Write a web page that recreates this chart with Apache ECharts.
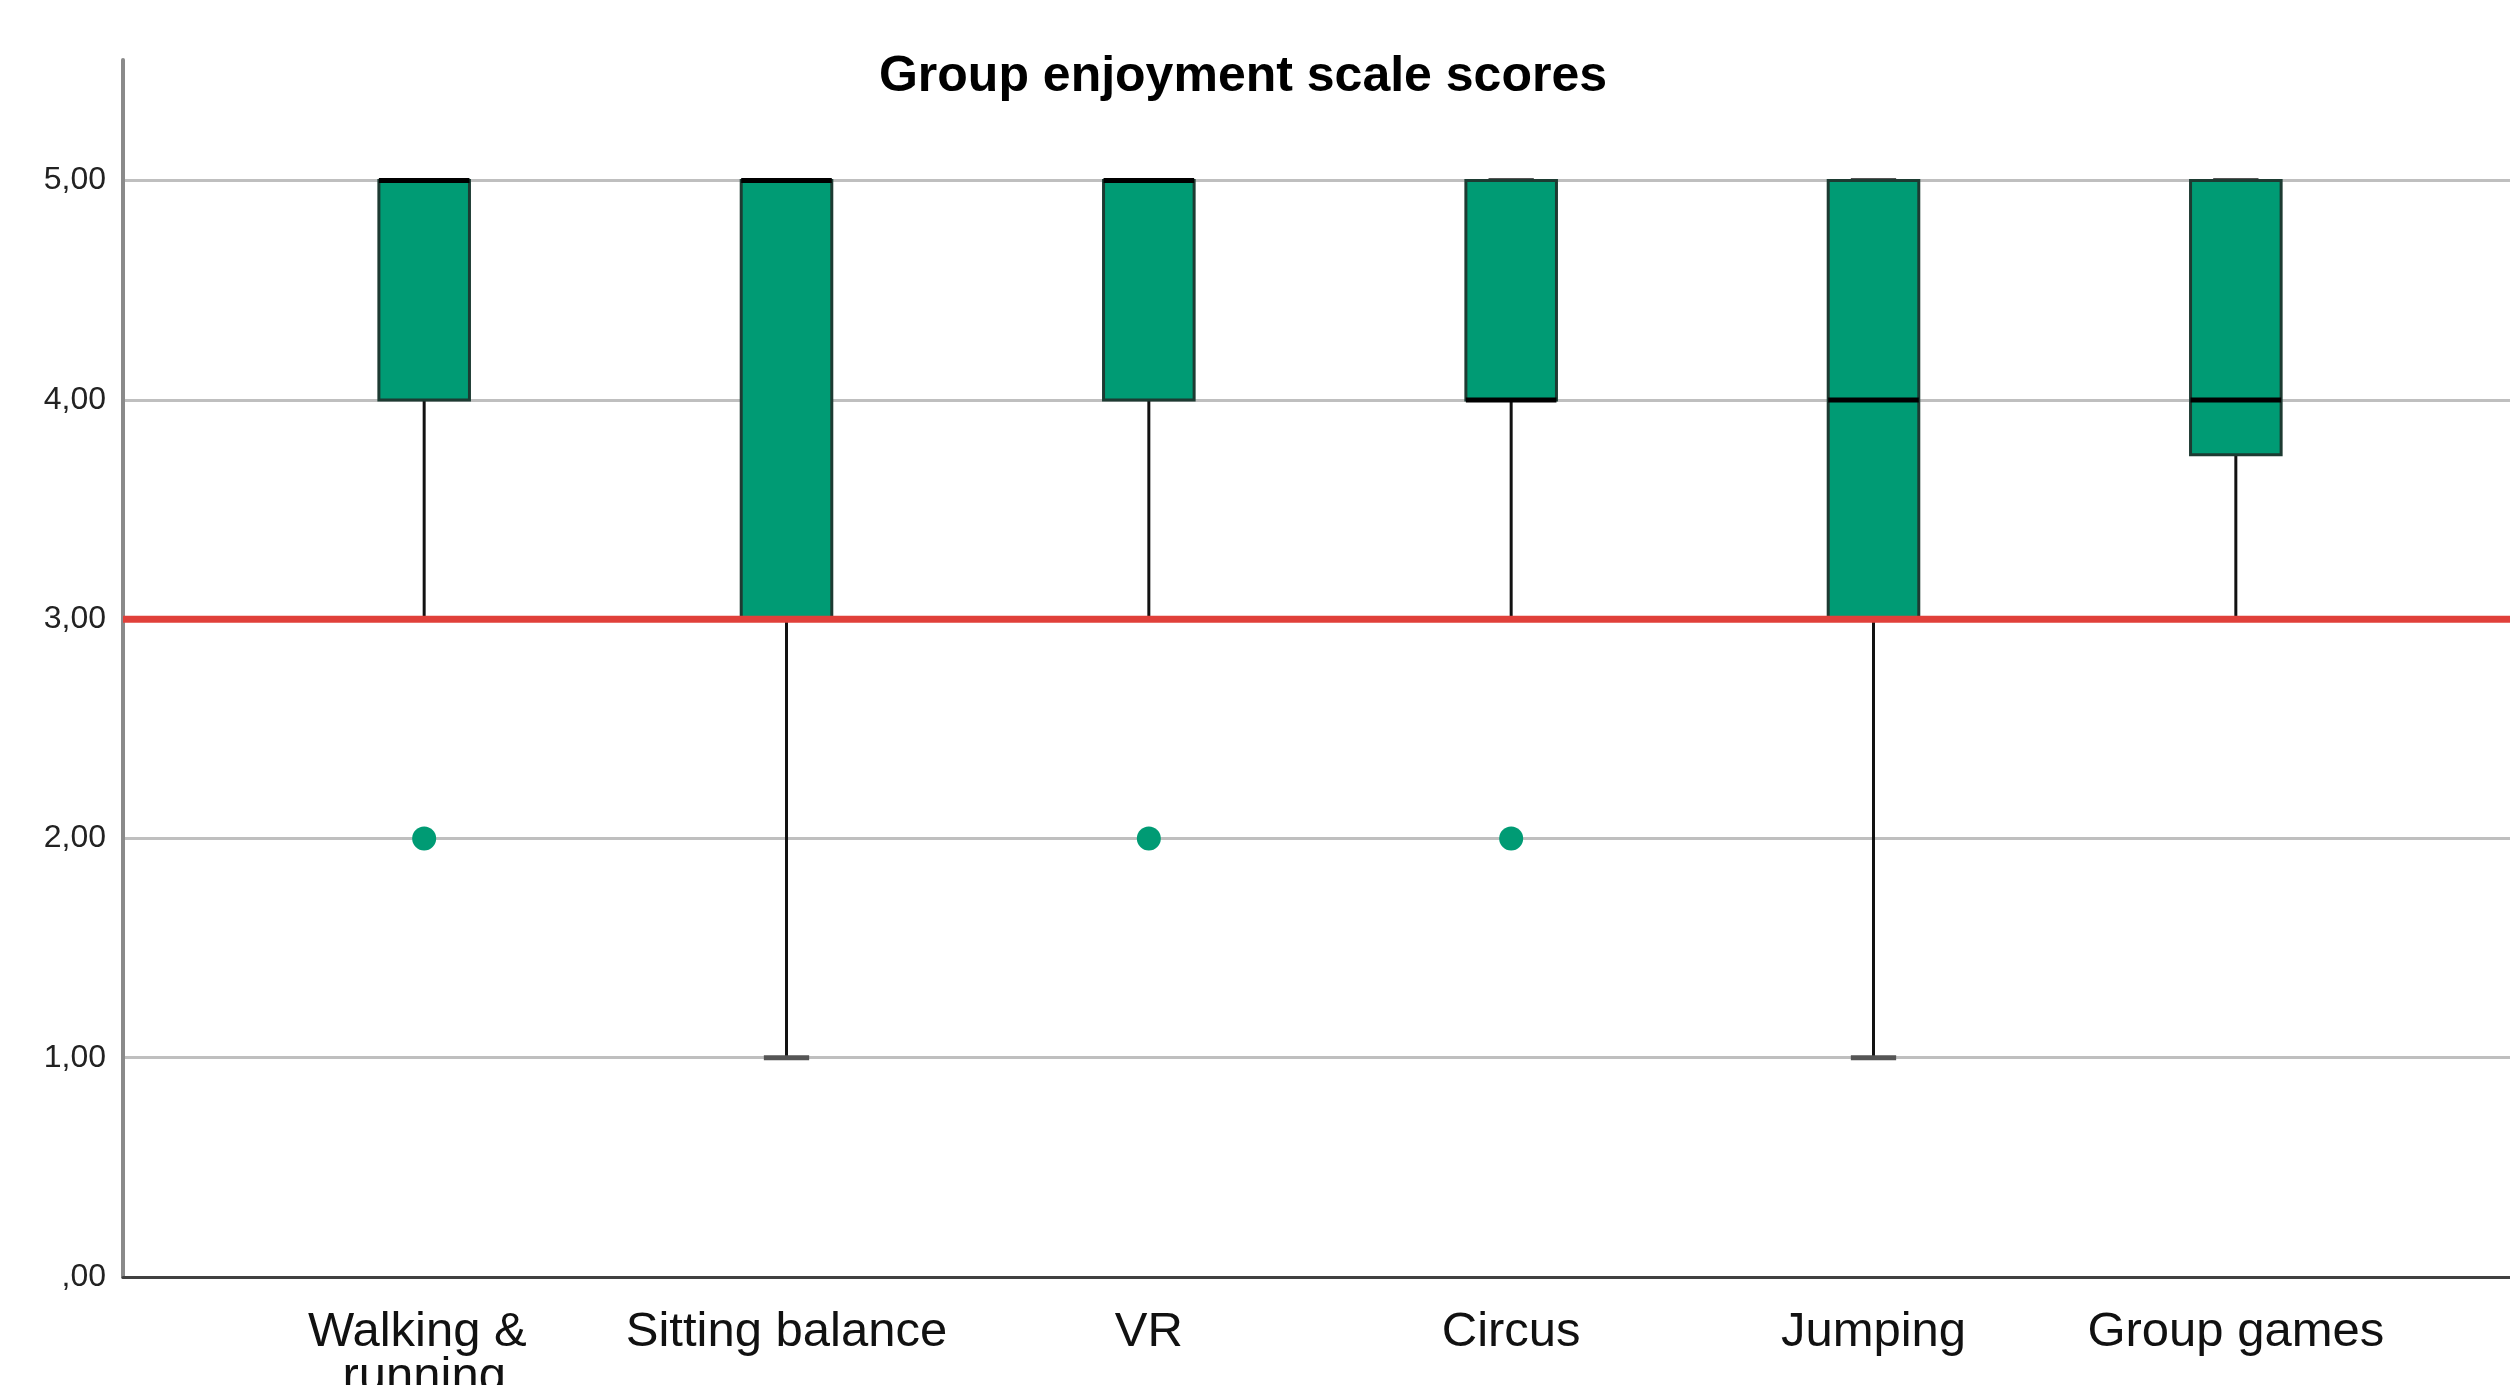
<!DOCTYPE html>
<html>
<head>
<meta charset="utf-8">
<style>
html,body{margin:0;padding:0;background:#fff;}
#c{width:2510px;height:1385px;}
</style>
<script src="https://cdn.jsdelivr.net/npm/echarts@6/dist/echarts.min.js"></script>
</head>
<body>
<div id="c"></div>
<script>
// ---- data ----
const titleText = 'Group enjoyment scale scores';
const categories = ['Walking & running', 'Sitting balance', 'VR', 'Circus', 'Jumping', 'Group games'];
const whiskerLow  = [3, 1, 3, 3, 1, 3];
const quartile1   = [4, 3, 4, 4, 3, 3.75];
const medians     = [5, 5, 5, 4, 4, 4];
const quartile3   = [5, 5, 5, 5, 5, 5];
const whiskerHigh = [5, 5, 5, 5, 5, 5];
const outlierCategory = [0, 2, 3];
const outlierValue    = [2, 2, 2];
const referenceValue = 3;
const yTickLabels = [',00', '1,00', '2,00', '3,00', '4,00', '5,00'];

// ---- chart ----
const boxData = categories.map((c, i) => [i, whiskerLow[i], quartile1[i], medians[i], quartile3[i], whiskerHigh[i]]);
const outlierData = outlierCategory.map((c, i) => [c, outlierValue[i]]);

const FONT = 'Liberation Sans';
const yMax = 5.55;
const chart = echarts.init(document.getElementById('c'));
chart.setOption({
  backgroundColor: '#ffffff',
  animation: false,
  title: {
    text: titleText,
    left: 1243,
    top: 52,
    padding: 0,
    textAlign: 'center',
    textStyle: { fontFamily: FONT, fontWeight: 'bold', fontSize: 50, color: '#000' }
  },
  grid: [
    { left: 123, right: 0, top: 60, bottom: 108, outerBoundsMode: 'none', containLabel: false },
    { left: 243, width: 2174, top: 60, bottom: 108, outerBoundsMode: 'none', containLabel: false }
  ],
  xAxis: [
    {
      gridIndex: 0, type: 'value', min: 0, max: 1,
      axisLine: { show: true, lineStyle: { color: '#404040', width: 3 } },
      axisTick: { show: false }, axisLabel: { show: false }, splitLine: { show: false }
    },
    {
      gridIndex: 1, type: 'category', data: categories, boundaryGap: true,
      axisLine: { show: false }, axisTick: { show: false }, splitLine: { show: false },
      axisLabel: {
        interval: 0, fontFamily: FONT, fontSize: 49, color: '#111',
        lineHeight: 45, margin: 33, width: 360, overflow: 'break', verticalAlign: 'top'
      }
    }
  ],
  yAxis: [
    {
      gridIndex: 0, type: 'value', min: 0, max: yMax, interval: 1,
      axisLine: { show: true, lineStyle: { color: '#8a8a8a', width: 4 } },
      axisTick: { show: false },
      axisLabel: {
        showMaxLabel: false, margin: 17, fontFamily: FONT, fontSize: 32, color: '#222',
        padding: [8, 0, 0, 0],
        formatter: v => (Number.isInteger(v) && yTickLabels[v] !== undefined) ? yTickLabels[v] : ''
      },
      splitLine: {
        show: true,
        lineStyle: { width: 3, color: ['#bfbfbf', '#bfbfbf', '#bfbfbf', '#bfbfbf', '#bfbfbf', '#bfbfbf', 'rgba(0,0,0,0)'] }
      }
    },
    {
      gridIndex: 1, type: 'value', min: 0, max: yMax, interval: 1, show: false
    }
  ],
  series: [
    {
      type: 'custom',
      xAxisIndex: 1, yAxisIndex: 1,
      data: boxData,
      encode: { x: 0, y: [1, 2, 3, 4, 5] },
      z: 3,
      renderItem: function (params, api) {
        const x = api.value(0);
        const pLow = api.coord([x, api.value(1)]);
        const pQ1 = api.coord([x, api.value(2)]);
        const pMed = api.coord([x, api.value(3)]);
        const pQ3 = api.coord([x, api.value(4)]);
        const pHigh = api.coord([x, api.value(5)]);
        const bw = api.size([1, 0])[0] * 0.25;
        const cw = bw / 2;
        const cx = pMed[0];
        const whiskerStyle = { stroke: '#111', lineWidth: 3 };
        const capStyle = { stroke: '#555', lineWidth: 5 };
        return {
          type: 'group',
          children: [
            { type: 'line', shape: { x1: cx, y1: pLow[1], x2: cx, y2: pQ1[1] }, style: whiskerStyle },
            { type: 'line', shape: { x1: cx, y1: pQ3[1], x2: cx, y2: pHigh[1] }, style: whiskerStyle },
            { type: 'line', shape: { x1: cx - cw / 2, y1: pLow[1], x2: cx + cw / 2, y2: pLow[1] }, style: capStyle },
            { type: 'line', shape: { x1: cx - cw / 2, y1: pHigh[1], x2: cx + cw / 2, y2: pHigh[1] }, style: capStyle },
            { type: 'rect', shape: { x: cx - bw / 2, y: pQ3[1], width: bw, height: pQ1[1] - pQ3[1] },
              style: { fill: '#009b74', stroke: '#1d3b32', lineWidth: 3 } },
            { type: 'line', shape: { x1: cx - bw / 2, y1: pMed[1], x2: cx + bw / 2, y2: pMed[1] },
              style: { stroke: '#000', lineWidth: 5 } }
          ]
        };
      }
    },
    {
      type: 'scatter',
      xAxisIndex: 1, yAxisIndex: 1,
      data: outlierData,
      symbol: 'circle', symbolSize: 24,
      itemStyle: { color: '#009b74', opacity: 1 },
      z: 4
    },
    {
      type: 'line',
      xAxisIndex: 0, yAxisIndex: 0,
      data: [[0, referenceValue], [1, referenceValue]],
      showSymbol: false, symbol: 'none',
      lineStyle: { color: '#e0403a', width: 7 },
      z: 10
    }
  ]
});
</script>
</body>
</html>
